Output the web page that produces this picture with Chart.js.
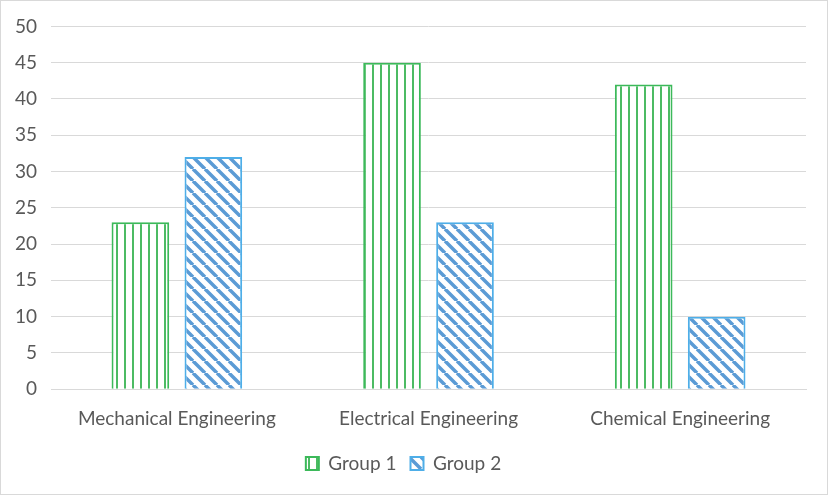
<!DOCTYPE html>
<html>
<head>
<meta charset="utf-8">
<script src="https://cdn.jsdelivr.net/npm/chart.js@4"></script>
<style>
  html, body { margin: 0; padding: 0; background: #fff; }
  #wrap { width: 826px; height: 493px; border: 1px solid #d9d9d9; }
</style>
</head>
<body>
<div id="wrap"><canvas id="deptChart" width="826" height="493"></canvas></div>
<script>
const departments = ['Mechanical Engineering', 'Electrical Engineering', 'Chemical Engineering'];
const group1 = [23, 45, 42];
const group2 = [32, 23, 10];
const yTicks = [0, 5, 10, 15, 20, 25, 30, 35, 40, 45, 50];

// vertical stripe fill for group 1
function verticalStripes(color) {
    const c = document.createElement('canvas');
    c.width = 8; c.height = 8;
    const g = c.getContext('2d');
    g.fillStyle = '#fff';
    g.fillRect(0, 0, 8, 8);
    g.fillStyle = color;
    g.fillRect(3, 0, 2, 8);
    return g.createPattern(c, 'repeat');
}

// diagonal stripe fill for group 2
function diagonalStripes(color) {
    const s = 12;
    const c = document.createElement('canvas');
    c.width = s; c.height = s;
    const g = c.getContext('2d');
    g.fillStyle = '#fff';
    g.fillRect(0, 0, s, s);
    g.strokeStyle = color;
    g.lineWidth = 3.5;
    g.beginPath();
    for (let k = -1; k <= 1; k++) {
        g.moveTo(k * s, 0);
        g.lineTo(k * s + s, s);
    }
    g.stroke();
    return g.createPattern(c, 'repeat');
}

const chart = document.getElementById('deptChart');
new Chart(chart, {
    type: 'bar',
    data: {
        labels: departments,
        datasets: [{
            label: 'Group 1',
            data: group1,
            backgroundColor: verticalStripes('#4cbb63'),
            borderColor: '#3cb95a',
            borderWidth: 2,
            borderSkipped: 'bottom',
            categoryPercentage: 0.58,
            barPercentage: 0.79
        }, {
            label: 'Group 2',
            data: group2,
            backgroundColor: diagonalStripes('#5b9bd5'),
            borderColor: '#4eaee8',
            borderWidth: 2,
            borderSkipped: 'bottom',
            categoryPercentage: 0.58,
            barPercentage: 0.79
        }]
    },
    options: {
        responsive: false,
        animation: false,
        layout: {
            padding: { left: 0, right: 21, top: 4, bottom: 11 }
        },
        scales: {
            x: {
                grid: { display: false },
                border: { color: '#d9d9d9', width: 1 },
                ticks: {
                    color: '#595959',
                    padding: 10,
                    font: { family: 'Lato', size: 19 }
                }
            },
            y: {
                min: 0,
                max: 50,
                afterBuildTicks: axis => {
                    axis.ticks = yTicks.map(v => ({ value: v }));
                },
                grid: { color: '#d9d9d9', drawTicks: false },
                border: { display: false },
                ticks: {
                    color: '#595959',
                    padding: 14,
                    font: { family: 'Lato', size: 19 }
                }
            }
        },
        plugins: {
            legend: {
                position: 'bottom',
                labels: {
                    color: '#595959',
                    boxWidth: 13,
                    boxHeight: 13,
                    padding: 14,
                    font: { family: 'Lato', size: 19 }
                }
            },
            tooltip: { enabled: false }
        }
    }
});
</script>
</body>
</html>
